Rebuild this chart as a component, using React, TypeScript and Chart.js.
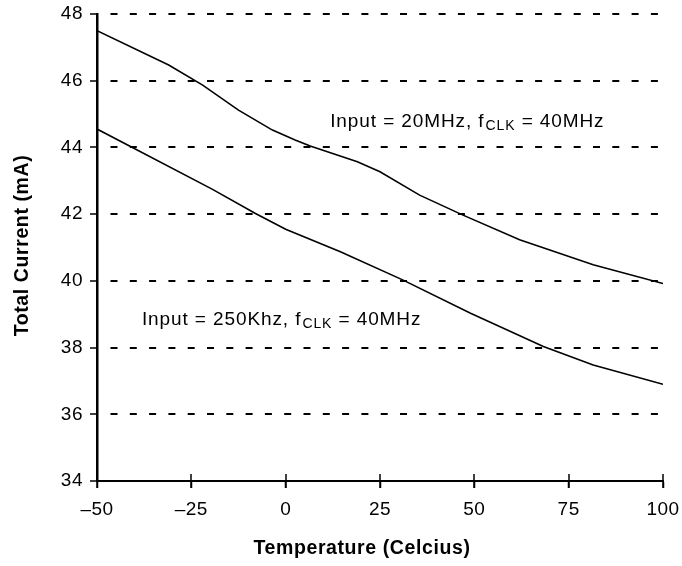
import React, { useEffect, useRef } from "react";
import { Chart, registerables } from "chart.js";

Chart.register(...registerables);

// ---- data ----
const temps20MHz = [-50, -31, -22, -12.5, -3.5, 2.5, 6.5, 19, 25, 35.5, 47, 62, 81.5, 100];
const current20MHz = [47.5, 46.47, 45.87, 45.12, 44.52, 44.22, 44.04, 43.57, 43.27, 42.57, 41.97, 41.23, 40.48, 39.92];

const temps250kHz = [-50, -41, -19.5, -8, 0, 14.5, 31, 49, 68.3, 81.5, 100];
const current250kHz = [44.55, 44.02, 42.75, 42.02, 41.55, 40.87, 40.03, 39.03, 38.03, 37.48, 36.9];

const xTickValues = [-50, -25, 0, 25, 50, 75, 100];
const yTickValues = [34, 36, 38, 40, 42, 44, 46, 48];

const label20MHz = ["Input = 20MHz, f", "CLK", " = 40MHz"];
const label250kHz = ["Input = 250Khz, f", "CLK", " = 40MHz"];

const xTitle = "Temperature (Celcius)";
const yTitle = "Total Current (mA)";

// anchors of the in-plot labels, in data units (left edge, baseline)
const label20MHzAnchor = { x: 11.8, y: 44.62 };
const label250kHzAnchor = { x: -38.1, y: 38.68 };

const FONT = "'Liberation Sans', Arial, Helvetica, sans-serif";

function drawSubLabel(ctx: CanvasRenderingContext2D, parts: string[], x: number, y: number) {
  ctx.save();
  ctx.fillStyle = "#000";
  ctx.textAlign = "left";
  ctx.textBaseline = "alphabetic";
  (ctx as any).letterSpacing = "0.9px";
  let cx = x;
  ctx.font = `19px ${FONT}`;
  ctx.fillText(parts[0], cx, y);
  cx += ctx.measureText(parts[0]).width + 1;
  ctx.font = `14px ${FONT}`;
  ctx.fillText(parts[1], cx, y + 3);
  cx += ctx.measureText(parts[1]).width;
  ctx.font = `19px ${FONT}`;
  ctx.fillText(parts[2], cx, y);
  ctx.restore();
}

const decorPlugin = {
  id: "decor",
  beforeDraw(chart: any) {
    (chart.ctx as any).letterSpacing = "0.5px";
  },
  afterDraw(chart: any) {
    const ctx: CanvasRenderingContext2D = chart.ctx;
    const xs = chart.scales.x;
    const ys = chart.scales.y;
    const area = chart.chartArea;

    // x tick marks crossing the axis
    ctx.save();
    ctx.strokeStyle = "#000";
    ctx.lineWidth = 1.5;
    for (const v of xTickValues) {
      const px = Math.round(xs.getPixelForValue(v));
      ctx.beginPath();
      ctx.moveTo(px, area.bottom - 7);
      ctx.lineTo(px, area.bottom + 7);
      ctx.stroke();
    }
    ctx.restore();

    // in-plot labels
    drawSubLabel(ctx, label20MHz, xs.getPixelForValue(label20MHzAnchor.x), ys.getPixelForValue(label20MHzAnchor.y));
    drawSubLabel(ctx, label250kHz, xs.getPixelForValue(label250kHzAnchor.x), ys.getPixelForValue(label250kHzAnchor.y));

    // axis titles
    ctx.save();
    ctx.fillStyle = "#000";
    (ctx as any).letterSpacing = "0.6px";
    ctx.font = `bold 19.5px ${FONT}`;
    ctx.textAlign = "center";
    ctx.textBaseline = "middle";
    ctx.fillText(xTitle, 362, 549);
    ctx.translate(23, (area.top + area.bottom) / 2 - 2);
    ctx.rotate(-Math.PI / 2);
    ctx.fillText(yTitle, 0, 0);
    ctx.restore();
  },
};

export default function App() {
  const ref = useRef<HTMLCanvasElement | null>(null);

  useEffect(() => {
    if (!ref.current) return;
    const chart = new Chart(ref.current, {
      type: "line",
      data: {
        datasets: [
          {
            label: "20MHz",
            data: temps20MHz.map((t, i) => ({ x: t, y: current20MHz[i] })),
            borderColor: "#000",
            borderWidth: 1.6,
            pointRadius: 0,
            tension: 0,
            fill: false,
          },
          {
            label: "250kHz",
            data: temps250kHz.map((t, i) => ({ x: t, y: current250kHz[i] })),
            borderColor: "#000",
            borderWidth: 1.6,
            pointRadius: 0,
            tension: 0,
            fill: false,
          },
        ],
      },
      options: {
        animation: false,
        responsive: false,
        devicePixelRatio: 1,
        layout: { padding: { top: 14, right: 19, left: 0, bottom: 0 } },
        plugins: { legend: { display: false }, tooltip: { enabled: false } },
        events: [],
        scales: {
          x: {
            type: "linear",
            min: -50,
            max: 100,
            afterBuildTicks: (s: any) => {
              s.ticks = xTickValues.map((v) => ({ value: v }));
            },
            afterFit: (s: any) => {
              s.height = 85;
              s.paddingLeft = 0;
              s.paddingRight = 0;
            },
            ticks: {
              color: "#000",
              font: { family: FONT, size: 19 },
              padding: 10,
              maxRotation: 0,
              autoSkip: false,
              callback: (v: any) => String(v).replace("-", "\u2013"),
            },
            grid: {
              display: true,
              drawOnChartArea: false,
              drawTicks: true,
              tickLength: 7,
              tickColor: "#000",
              tickWidth: 1.5,
              color: "#000",
            },
            border: { display: true, color: "#000", width: 2 },
          },
          y: {
            type: "linear",
            min: 34,
            max: 48,
            afterBuildTicks: (s: any) => {
              s.ticks = yTickValues.map((v) => ({ value: v }));
            },
            afterFit: (s: any) => {
              s.width = 97;
              s.paddingTop = 0;
              s.paddingBottom = 0;
            },
            ticks: {
              color: "#000",
              font: { family: FONT, size: 19 },
              padding: 7,
              autoSkip: false,
            },
            grid: {
              display: true,
              drawOnChartArea: true,
              drawTicks: true,
              tickLength: 7,
              tickColor: "#000",
              tickWidth: 1.5,
              tickBorderDash: [],
              color: "#000",
              lineWidth: 2,
            },
            border: { display: true, color: "#000", width: 2.5, dash: [7, 12.3], dashOffset: 7.3 },
          },
        },
      },
      plugins: [decorPlugin],
    } as any);
    return () => chart.destroy();
  }, []);

  return (
    <div style={{ position: "absolute", left: 0, top: 0, width: 682, height: 566, background: "#fff" }}>
      <canvas ref={ref} width={682} height={566} style={{ display: "block", width: 682, height: 566 }} />
    </div>
  );
}
